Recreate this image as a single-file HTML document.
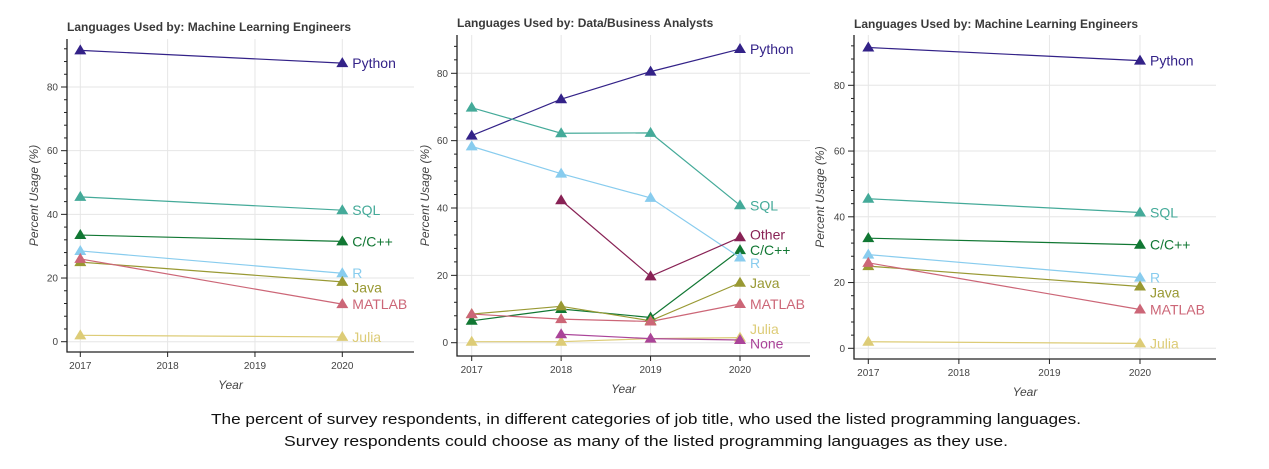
<!DOCTYPE html>
<html><head><meta charset="utf-8"><style>
body{margin:0;background:#fff;width:1269px;height:469px;overflow:hidden}
svg{display:block}
</style></head><body>
<svg id="chart" width="1269" height="469" font-family="Liberation Sans, sans-serif">
<rect x="0" y="0" width="1269" height="469" fill="#fff"/>
<g font-family="Liberation Sans Narrow, Liberation Sans, sans-serif" font-size="15" fill="#111" text-anchor="middle">
<text x="646" y="424" textLength="870" lengthAdjust="spacingAndGlyphs">The percent of survey respondents, in different categories of job title, who used the listed programming languages.</text>
<text x="646" y="446" textLength="724" lengthAdjust="spacingAndGlyphs">Survey respondents could choose as many of the listed programming languages as they use.</text>
</g>
</svg>
<script>
const years = [2017, 2018, 2019, 2020];
const seriesNames = ["Python","SQL","C/C++","R","Java","MATLAB","Julia","Other","None"];
const seriesColors = ["#332288","#44AA99","#117733","#88CCEE","#999933","#CC6677","#DDCC77","#882255","#AA4499"];
// Machine Learning Engineers (2017, 2018, 2019, 2020); null = no data
const mlPython = [91.5, null, null, 87.5];
const mlSQL    = [45.5, null, null, 41.3];
const mlC      = [33.5, null, null, 31.5];
const mlR      = [28.5, null, null, 21.5];
const mlJava   = [25.0, null, null, 18.8];
const mlMatlab = [26.0, null, null, 11.8];
const mlJulia  = [2.0, null, null, 1.5];
// Data/Business Analysts
const daPython = [61.5, 72.3, 80.5, 87.2];
const daSQL    = [69.8, 62.2, 62.3, 40.8];
const daC      = [6.5, 10.0, 7.5, 27.5];
const daR      = [58.3, 50.2, 43.0, 25.3];
const daJava   = [8.5, 10.8, 6.5, 17.8];
const daMatlab = [8.5, 7.0, 6.3, 11.5];
const daJulia  = [0.3, 0.3, 1.2, 1.5];
const daOther  = [null, 42.3, 19.7, 31.3];
const daNone   = [null, 2.5, 1.2, 0.8];
const yTicks = [0, 20, 40, 60, 80];
// label y-values (data units) for end labels
const mlLabelY = [87.5, 41.3, 31.5, 21.5, 17.0, 11.8, 1.5];
const daLabelY = [87.2, 40.8, 27.5, 23.7, 17.8, 11.5, 4.0, 32.2, -0.3];

const NS = "http://www.w3.org/2000/svg";
const svg = document.getElementById("chart");
function mk(tag, attrs, parent){const e=document.createElementNS(NS,tag);for(const k in attrs)e.setAttribute(k,attrs[k]);(parent||svg).appendChild(e);return e;}

const panels = [
 {title:"Languages Used by: Machine Learning Engineers", name:"ml-engineers-left", left:67,right:414,top:39,bottom:352,x0:80.3,x1:342.3,y0:341.7,y80:87,titleX:67,titleY:31,ylabX:38,
  data:[mlPython,mlSQL,mlC,mlR,mlJava,mlMatlab,mlJulia], labels:mlLabelY},
 {title:"Languages Used by: Data/Business Analysts", name:"data-analysts", left:457,right:810,top:35,bottom:356,x0:471.7,x1:740,y0:342.7,y80:73.3,titleX:457,titleY:27,ylabX:429,
  data:[daPython,daSQL,daC,daR,daJava,daMatlab,daJulia,daOther,daNone], labels:daLabelY},
 {title:"Languages Used by: Machine Learning Engineers", name:"ml-engineers-right", left:854,right:1216,top:35,bottom:359,x0:868.3,x1:1140,y0:348.3,y80:85.3,titleX:854,titleY:28,ylabX:824,
  data:[mlPython,mlSQL,mlC,mlR,mlJava,mlMatlab,mlJulia], labels:mlLabelY}
];

panels.forEach(p=>{
  const xs = y=>p.x0+(y-years[0])*(p.x1-p.x0)/(years[3]-years[0]);
  const ys = v=>p.y0-v*(p.y0-p.y80)/80;
  const g = mk("g",{});
  
  
  years.forEach(yr=>{const l=mk("line",{x1:xs(yr),x2:xs(yr),y1:p.top,y2:p.bottom,stroke:"#e6e6e6","stroke-width":1},g);
    
    });
  yTicks.forEach(t=>{const l=mk("line",{x1:p.left,x2:p.right,y1:ys(t),y2:ys(t),stroke:"#e6e6e6","stroke-width":1},g);
    
    });
  const ax=mk("path",{d:`M${p.left},${p.top}V${p.bottom}H${p.right}`,fill:"none",stroke:"#222","stroke-width":1.3},g);
  
  
  for(let v=-4; ys(v)>=p.top; v+=4){ if(ys(v)>p.bottom) continue;
    const big = yTicks.includes(v);
    mk("line",{x1:p.left-(big?6:3),x2:p.left,y1:ys(v),y2:ys(v),stroke:"#222","stroke-width":1},g);}
  yTicks.forEach(t=>{const tx=mk("text",{x:p.left-9,y:ys(t)+3.5,"font-size":10,fill:"#444","text-anchor":"end"},g);tx.textContent=t;
    
    });
  years.forEach(yr=>{mk("line",{x1:xs(yr),x2:xs(yr),y1:p.bottom,y2:p.bottom+5,stroke:"#222"},g);
    const tx=mk("text",{x:xs(yr),y:p.bottom+17,"font-size":10,fill:"#444","text-anchor":"middle"},g);tx.textContent=yr;
    
    });
  const xl=mk("text",{x:(p.left+p.right)/2-10,y:p.bottom+37,"font-size":12,"font-style":"italic",fill:"#444","text-anchor":"middle"},g);xl.textContent="Year";
  
  
  const cy=(p.top+p.bottom)/2;
  const yl=mk("text",{x:p.ylabX,y:cy,"font-size":12,"font-style":"italic",fill:"#444","text-anchor":"middle",transform:`rotate(-90 ${p.ylabX} ${cy})`},g);yl.textContent="Percent Usage (%)";
  
  
  const tt=mk("text",{x:p.titleX,y:p.titleY,"font-size":12,"font-weight":"bold",fill:"#3a3a3a"},g);tt.textContent=p.title;
  
  
  p.data.forEach((arr,i)=>{
    const col=seriesColors[i];
    const sg=mk("g",{},g);
    
    
    let d="";
    arr.forEach((v,j)=>{ if(v===null) return; d+=(d?"L":"M")+xs(years[j])+","+ys(v);});
    mk("path",{d:d,fill:"none",stroke:col,"stroke-width":1.2},sg);
    arr.forEach((v,j)=>{ if(v===null) return;
      const x=xs(years[j]), y=ys(v);
      const m=mk("path",{d:`M${x},${y-6}L${x+6},${y+4}L${x-6},${y+4}Z`,fill:col},sg);
      
      });
    const lb=mk("text",{x:xs(2020)+10,y:ys(p.labels[i])+5,"font-size":14,fill:col},sg);lb.textContent=seriesNames[i];
    
    
  });
});
</script>
</body></html>
